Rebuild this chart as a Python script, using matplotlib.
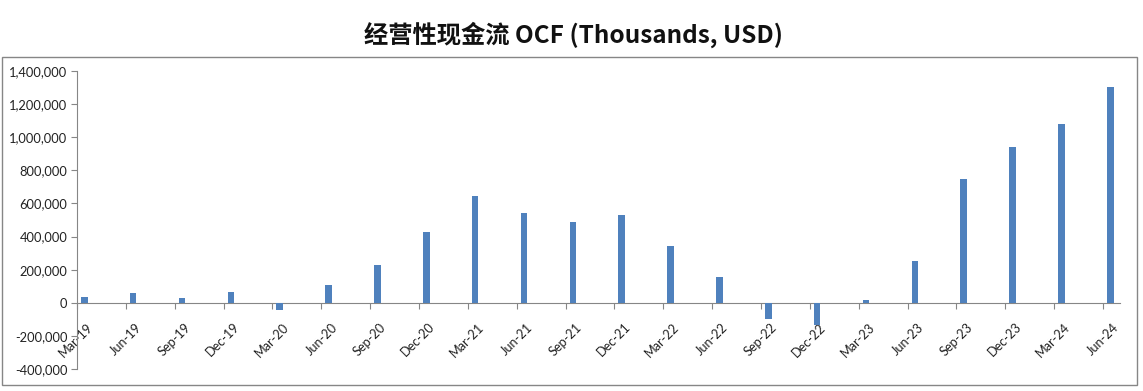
import matplotlib
matplotlib.use("Agg")
import matplotlib.pyplot as plt
from matplotlib.patches import Rectangle
from matplotlib.ticker import FuncFormatter, FixedLocator
import numpy as np

categories = ["Mar-19", "Jun-19", "Sep-19", "Dec-19", "Mar-20", "Jun-20", "Sep-20", "Dec-20",
              "Mar-21", "Jun-21", "Sep-21", "Dec-21", "Mar-22", "Jun-22", "Sep-22", "Dec-22",
              "Mar-23", "Jun-23", "Sep-23", "Dec-23", "Mar-24", "Jun-24"]
ocf = [33000, 58000, 26000, 68000, -42000, 105000, 231000, 426000,
       646000, 543000, 489000, 531000, 344000, 153000, -101000, -135000,
       14000, 255000, 748000, 941000, 1080000, 1303000]
yticks = [-400000, -200000, 0, 200000, 400000, 600000, 800000, 1000000, 1200000, 1400000]

fig = plt.figure(figsize=(11.43, 3.91), dpi=100)
ax = fig.add_axes([77/1143, 1-369/391, (1120-77)/1143, (369-71)/391])

n = len(categories)
x = np.arange(n)
ax.bar(x + 0.15, ocf, width=0.135, color="#4F81BD", zorder=3)

ax.set_xlim(0, (1120 - 77) / ((1103 - 77) / 21))
ax.set_ylim(-400000, 1400000)
ax.set_yticks(yticks)
ax.yaxis.set_major_formatter(FuncFormatter(lambda v, p: f"{int(v):,}"))

axis_gray = "#868686"
for s in ["top", "right"]:
    ax.spines[s].set_visible(False)
ax.spines["left"].set_color(axis_gray)
ax.spines["bottom"].set_color(axis_gray)
ax.spines["bottom"].set_position(("data", 0))

ax.xaxis.set_major_locator(FixedLocator(x))
ax.xaxis.set_minor_locator(FixedLocator(x + 0.2))
ax.set_xticklabels([""] * n)
ax.set_xticklabels(categories, minor=True, rotation=45, ha="right", rotation_mode="anchor",
                   fontsize=9.2, family="Lato", color="#222222")
ax.tick_params(axis="x", which="major", length=4, color=axis_gray, direction="out")
ax.tick_params(axis="x", which="minor", length=0, pad=13)
ax.tick_params(axis="y", length=4, color=axis_gray, direction="out", pad=3)
for lab in ax.get_yticklabels():
    lab.set_family("Lato")
    lab.set_fontsize(9.3)
    lab.set_color("#222222")

# outer chart border
fig.patches.append(Rectangle((2/1143, 1-385/391), 1135/1143, (385-57)/391, transform=fig.transFigure,
                             fill=False, edgecolor="#868686", linewidth=1))

fig.text(573/1143, 1-35/391, "经营性现金流 OCF (Thousands, USD)", ha="center", va="center",
         fontsize=17.5, fontweight="bold", family=["Noto Sans CJK SC", "DejaVu Sans"], color="#111111")

fig.savefig("out.png", dpi=100)
